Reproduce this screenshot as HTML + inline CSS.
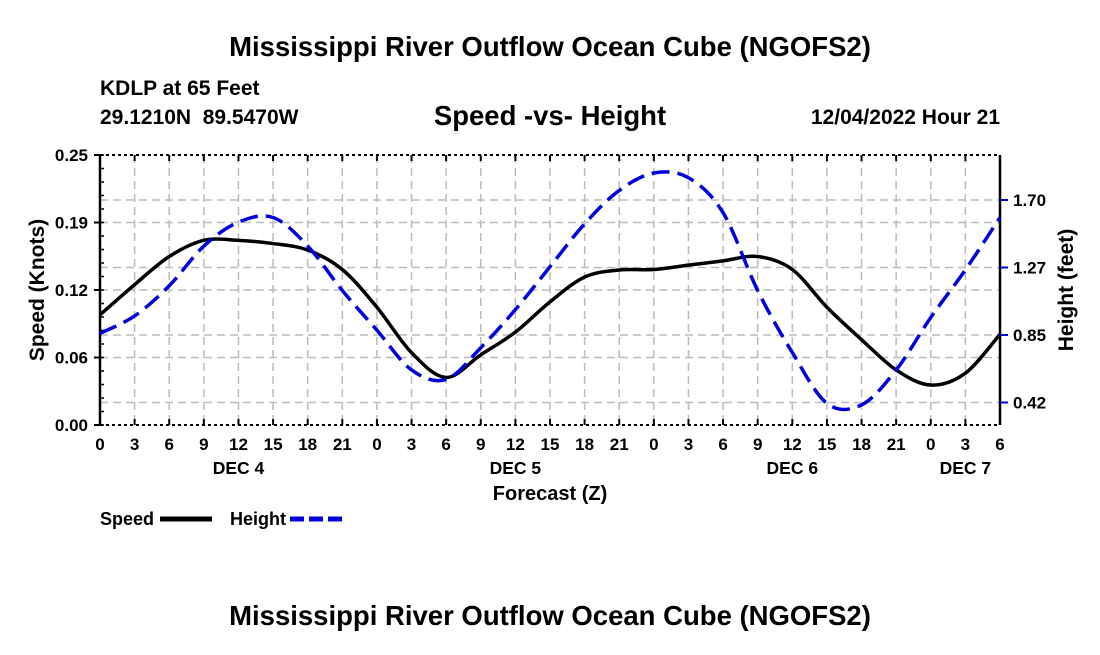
<!DOCTYPE html>
<html><head><meta charset="utf-8"><style>
body{margin:0;background:#fff;}
svg text{font-family:"Liberation Sans",Arial,sans-serif;font-weight:bold;fill:#000;}
</style></head><body>
<svg id="chart" width="1100" height="650" xmlns="http://www.w3.org/2000/svg">
<text x="550" y="56" font-size="27.5" text-anchor="middle">Mississippi River Outflow Ocean Cube (NGOFS2)</text>
<text x="100" y="95" font-size="21">KDLP at 65 Feet</text>
<text x="100" y="124" font-size="21">29.1210N&#160;&#160;89.5470W</text>
<text x="550" y="125" font-size="27.5" text-anchor="middle">Speed -vs- Height</text>
<text x="1000" y="124" font-size="21" text-anchor="end">12/04/2022 Hour 21</text>
<g id="grid"></g><g id="axes"></g><g id="series"></g>
<text transform="translate(44,290) rotate(-90)" font-size="21" text-anchor="middle">Speed (Knots)</text>
<text transform="translate(1073,290) rotate(-90)" font-size="21" text-anchor="middle">Height (feet)</text>
<text x="550" y="500" font-size="20" text-anchor="middle">Forecast (Z)</text>
<g>
<text x="100" y="525" font-size="18">Speed</text>
<line x1="160" y1="519" x2="212" y2="519" stroke="#000" stroke-width="5"/>
<text x="230" y="525" font-size="18">Height</text>
<line x1="290" y1="519" x2="343" y2="519" stroke="#0000dd" stroke-width="5" stroke-dasharray="14,5"/>
</g>
<text x="550" y="625" font-size="27.5" text-anchor="middle">Mississippi River Outflow Ocean Cube (NGOFS2)</text>
</svg>
<script>
const hourLabels=["0","3","6","9","12","15","18","21","0","3","6","9","12","15","18","21","0","3","6","9","12","15","18","21","0","3","6"];
const dayLabels=["DEC 4","DEC 5","DEC 6","DEC 7"];
const dayLabelIdx=[4,12,20,25];
const speedTicks=[0,0.0625,0.125,0.1875,0.25];
const speedTickLabels=["0.00","0.06","0.12","0.19","0.25"];
const heightTicks=[0.425,0.85,1.275,1.70];
const heightTickLabels=["0.42","0.85","1.27","1.70"];
const speedValues=[0.102,0.130,0.156,0.171,0.171,0.168,0.162,0.144,0.109,0.067,0.044,0.065,0.086,0.114,0.137,0.1435,0.144,0.148,0.152,0.156,0.144,0.109,0.079,0.051,0.037,0.048,0.084];
const heightValues=[0.86,0.97,1.16,1.41,1.56,1.59,1.41,1.13,0.88,0.63,0.57,0.77,1.01,1.28,1.55,1.76,1.87,1.84,1.62,1.13,0.74,0.42,0.41,0.63,0.96,1.26,1.59];
const NS="http://www.w3.org/2000/svg";
const L=100,R=1000,T=155,B=425;
const n=hourLabels.length-1;
function xs(i){return L+(R-L)*i/n;}
function ys(v){return B-(B-T)*v/0.25;}
function yh(h){return 335-(h-0.85)*(67.5/0.425);}
function mk(tag,attrs,parent){const e=document.createElementNS(NS,tag);for(const k in attrs)e.setAttribute(k,attrs[k]);document.getElementById(parent).appendChild(e);return e;}
for(let i=1;i<n;i++){const e=mk('line',{x1:xs(i),x2:xs(i),y1:T,y2:B,stroke:'#bbb','stroke-width':1.5,'stroke-dasharray':'8,5'},'grid');

}
speedTicks.slice(1,4).forEach(v=>{const e=mk('line',{x1:L,x2:R,y1:ys(v),y2:ys(v),stroke:'#bbb','stroke-width':1.5,'stroke-dasharray':'8,5'},'grid');

});
heightTicks.forEach(v=>{const e=mk('line',{x1:L,x2:R,y1:yh(v),y2:yh(v),stroke:'#bbb','stroke-width':1.5,'stroke-dasharray':'8,5'},'grid');

});
let a=mk('line',{x1:L,x2:L,y1:T,y2:B,stroke:'#000','stroke-width':2.5},'axes');


a=mk('line',{x1:R,x2:R,y1:T,y2:B,stroke:'#000','stroke-width':2.5},'axes');


a=mk('line',{x1:L,x2:R,y1:B,y2:B,stroke:'#000','stroke-width':2,'stroke-dasharray':'3,3'},'axes');


a=mk('line',{x1:L,x2:R,y1:T,y2:T,stroke:'#000','stroke-width':2,'stroke-dasharray':'3,3'},'axes');


hourLabels.forEach((lab,i)=>{
 mk('line',{x1:xs(i),x2:xs(i),y1:B-6,y2:B,stroke:'#000','stroke-width':2},'axes');
 mk('line',{x1:xs(i),x2:xs(i),y1:T,y2:T+6,stroke:'#000','stroke-width':2},'axes');
 const t=mk('text',{x:xs(i),y:450,'font-size':17,'text-anchor':'middle'},'axes');t.textContent=lab;
 
 
});
dayLabels.forEach((lab,k)=>{const t=mk('text',{x:xs(dayLabelIdx[k]),y:474,'font-size':17.5,'text-anchor':'middle'},'axes');t.textContent=lab;
 
 });
for(let v=0;v<=0.25001;v+=0.25/20){mk('line',{x1:L,x2:L+4,y1:ys(v),y2:ys(v),stroke:'#000','stroke-width':1.5},'axes');}
speedTicks.forEach((v,k)=>{
 mk('line',{x1:L-6,x2:L,y1:ys(v),y2:ys(v),stroke:'#000','stroke-width':2},'axes');
 const t=mk('text',{x:L-12,y:ys(v)+6,'font-size':17,'text-anchor':'end'},'axes');t.textContent=speedTickLabels[k];
 
 
});
heightTicks.forEach((v,k)=>{
 mk('line',{x1:R,x2:R+8,y1:yh(v),y2:yh(v),stroke:'#0000dd','stroke-width':2},'axes');
 const t=mk('text',{x:R+13,y:yh(v)+6,'font-size':17},'axes');t.textContent=heightTickLabels[k];
 
 
});
function path(vals,fy){const p=vals.map((v,i)=>[xs(i),fy(v)]);let d='M'+p[0][0]+','+p[0][1];
 for(let i=0;i<p.length-1;i++){const p0=p[Math.max(i-1,0)],p1=p[i],p2=p[i+1],p3=p[Math.min(i+2,p.length-1)];
  d+=' C'+(p1[0]+(p2[0]-p0[0])/6)+','+(p1[1]+(p2[1]-p0[1])/6)+' '+(p2[0]-(p3[0]-p1[0])/6)+','+(p2[1]-(p3[1]-p1[1])/6)+' '+p2[0]+','+p2[1];}
 return d;}
const s=mk('path',{d:path(speedValues,ys),fill:'none',stroke:'#000','stroke-width':3.5},'series');


const h=mk('path',{d:path(heightValues,yh),fill:'none',stroke:'#0000dd','stroke-width':3.5,'stroke-dasharray':'18,8'},'series');


</script>
</body></html>
